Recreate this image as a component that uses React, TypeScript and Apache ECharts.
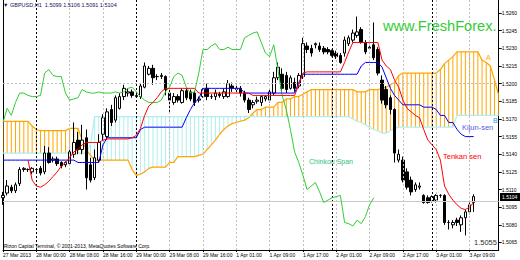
import React, { useEffect, useRef } from "react";
import * as echarts from "echarts";

const xTickLabels = [
  "27 Mar 2013", "28 Mar 00:00", "28 Mar 08:00", "28 Mar 16:00", "29 Mar 00:00",
  "29 Mar 08:00", "29 Mar 16:00", "1 Apr 01:00", "1 Apr 09:00", "1 Apr 17:00",
  "2 Apr 01:00", "2 Apr 09:00", "2 Apr 17:00", "3 Apr 01:00", "3 Apr 09:00",
];
const yTickValues = [
  1.5065, 1.508, 1.5095, 1.511, 1.5125, 1.514, 1.5155, 1.517, 1.5185, 1.52,
  1.5215, 1.523, 1.5245, 1.526,
];
const BAR_SLOTS = 120;
const daySeparators = [8, 32, 79, 103];
const bidPrice = 1.5104;

const open = [
  1.5103, 1.5107, 1.5112, 1.5109, 1.5115, 1.5127, 1.5127, 1.5125, 1.5127, 1.5128,
  1.5125, 1.5141, 1.5135, 1.5136, 1.5133, 1.5131, 1.5132, 1.514, 1.5152, 1.5144,
  1.5154, 1.5131, 1.512, 1.5135, 1.5157, 1.5155, 1.5178, 1.5169, 1.5179, 1.5189,
  1.5192, 1.5193, 1.5189, 1.5189, 1.5197, 1.5208, 1.5213, 1.5206, 1.5206, 1.5206,
  1.5192, 1.5184, 1.5189, 1.5184, 1.5194, 1.5193, 1.5192, 1.5186, 1.5189, 1.5196,
  1.5189, 1.5189, 1.5191, 1.5189, 1.5189, 1.5198, 1.5196, 1.5196, 1.5192, 1.5186,
  1.5182, 1.5185, 1.5184, 1.5187, 1.5186, 1.5192, 1.5205, 1.5208, 1.5207, 1.5196,
  1.5201, 1.5198, 1.5206, 1.5232, 1.523, 1.5233, 1.5232, 1.523, 1.5229, 1.5228,
  1.5226, 1.5224, 1.5226, 1.5234, 1.5237, 1.5241, 1.5246, 1.5235, 1.523, 1.5233,
  1.5229, 1.5203, 1.5195, 1.5188, 1.5178, 1.5135, 1.5135, 1.5125, 1.5118, 1.511,
  1.5112, 1.5105, 1.5103, 1.51, 1.5101, 1.5105, 1.5105, 1.5082, 1.508, 1.5084,
  1.508, 1.5086, 1.5091, 1.5099,
];
const close = [
  1.5105, 1.5113, 1.5109, 1.5114, 1.5127, 1.5128, 1.5127, 1.5128, 1.5127, 1.5124,
  1.5141, 1.5133, 1.5136, 1.5132, 1.513, 1.5133, 1.5142, 1.515, 1.5144, 1.5152,
  1.512, 1.5118, 1.5137, 1.515, 1.5171, 1.5176, 1.5167, 1.5188, 1.5189, 1.5196,
  1.5193, 1.519, 1.519, 1.5198, 1.5215, 1.5213, 1.5205, 1.5206, 1.5207, 1.5195,
  1.5186, 1.5189, 1.5186, 1.5194, 1.5188, 1.5187, 1.5184, 1.5187, 1.5195, 1.5189,
  1.5189, 1.5192, 1.519, 1.5193, 1.52, 1.5196, 1.5195, 1.5192, 1.5186, 1.5178,
  1.5184, 1.5186, 1.5189, 1.5189, 1.5193, 1.5205, 1.5214, 1.5196, 1.5195, 1.5205,
  1.5196, 1.5207, 1.5234, 1.5229, 1.5226, 1.5234, 1.5229, 1.5227, 1.5227, 1.5224,
  1.5223, 1.5218, 1.5237, 1.5239, 1.5243, 1.5244, 1.5235, 1.5227, 1.5231, 1.5222,
  1.5209, 1.5186, 1.5182, 1.5178, 1.5141, 1.514, 1.5118, 1.5112, 1.5108, 1.5114,
  1.5113, 1.5099, 1.5099, 1.5104, 1.5105, 1.5105, 1.5082, 1.5082, 1.5082, 1.5082,
  1.5086, 1.5091, 1.5097, 1.5104,
];
const low = [
  1.5097, 1.5105, 1.5107, 1.5107, 1.5113, 1.5125, 1.5125, 1.5123, 1.5124, 1.5122,
  1.5123, 1.5132, 1.5133, 1.513, 1.5128, 1.5129, 1.513, 1.5137, 1.514, 1.514,
  1.511, 1.5116, 1.5118, 1.5133, 1.5152, 1.5152, 1.5164, 1.5167, 1.5178, 1.5186,
  1.5189, 1.5188, 1.5188, 1.5187, 1.5196, 1.5207, 1.5199, 1.5203, 1.5204, 1.519,
  1.5176, 1.5182, 1.5184, 1.5183, 1.5186, 1.5185, 1.5181, 1.5184, 1.5188, 1.5186,
  1.5187, 1.5186, 1.5188, 1.5187, 1.5188, 1.5193, 1.5192, 1.5189, 1.5184, 1.5175,
  1.5179, 1.5183, 1.5181, 1.5185, 1.5184, 1.519, 1.5203, 1.5193, 1.5192, 1.5195,
  1.5193, 1.5196, 1.5204, 1.5226, 1.5223, 1.523, 1.5227, 1.5225, 1.5225, 1.5223,
  1.5221, 1.5217, 1.5223, 1.5232, 1.5235, 1.5239, 1.5234, 1.5225, 1.5229, 1.522,
  1.5207, 1.5183, 1.5179, 1.5174, 1.5133, 1.5133, 1.5116, 1.511, 1.5105, 1.5108,
  1.511, 1.5098, 1.5098, 1.5099, 1.5099, 1.5103, 1.508, 1.5076, 1.5077, 1.5079,
  1.5074, 1.5071, 1.5089, 1.5091,
];
const high = [
  1.5108, 1.5118, 1.5114, 1.5116, 1.5129, 1.5129, 1.5128, 1.5129, 1.5128, 1.513,
  1.5147, 1.5146, 1.5138, 1.5138, 1.5134, 1.5134, 1.5145, 1.5167, 1.5159, 1.5165,
  1.5161, 1.5137, 1.5144, 1.5157, 1.5174, 1.5179, 1.5182, 1.519, 1.5192, 1.5199,
  1.5196, 1.5195, 1.5193, 1.52, 1.5218, 1.5215, 1.5216, 1.5208, 1.5209, 1.5207,
  1.5195, 1.5192, 1.5191, 1.5196, 1.5196, 1.5195, 1.5194, 1.5189, 1.5196, 1.52,
  1.5191, 1.5195, 1.5193, 1.5196, 1.5203, 1.5201, 1.5199, 1.5198, 1.5194, 1.5188,
  1.5186, 1.5189, 1.519, 1.519, 1.5196, 1.521, 1.5218, 1.5213, 1.521, 1.5207,
  1.5205, 1.5209, 1.5239, 1.5235, 1.5233, 1.5235, 1.5235, 1.5232, 1.5231, 1.5229,
  1.5228, 1.5226, 1.524, 1.5241, 1.5246, 1.5257, 1.5248, 1.5237, 1.5234, 1.5252,
  1.5231, 1.5207, 1.5198, 1.519, 1.5179, 1.5144, 1.5138, 1.5128, 1.5121, 1.5116,
  1.5116, 1.5106, 1.5105, 1.5105, 1.5106, 1.5106, 1.5106, 1.5084, 1.5084, 1.5086,
  1.5088, 1.5093, 1.5099, 1.5106,
];

const tenkan = [
  null, null, null, null, null, null, 1.5135, 1.5118, 1.5113, 1.5112,
  1.5114, 1.5117, 1.5121, 1.5125, 1.513, 1.5133, 1.5137, 1.5142, 1.5144, 1.5148,
  1.515, 1.515, 1.515, 1.515, 1.5152, 1.5153, 1.5153, 1.5153, 1.5153, 1.5153,
  1.5153, 1.5154, 1.5156, 1.5162, 1.5173, 1.5181, 1.5184, 1.5188, 1.5193, 1.5196,
  1.5196, 1.5196, 1.5196, 1.5196, 1.5196, 1.5196, 1.5196, 1.5192, 1.5192, 1.5192,
  1.5192, 1.5192, 1.5192, 1.5192, 1.5192, 1.5192, 1.5192, 1.5192, 1.5192, 1.5192,
  1.519, 1.519, 1.519, 1.519, 1.519, 1.519, 1.519, 1.519, 1.519, 1.519,
  1.519, 1.5199, 1.5209, 1.521, 1.521, 1.521, 1.521, 1.521, 1.521, 1.521,
  1.521, 1.521, 1.5218, 1.5227, 1.5235, 1.5235, 1.5235, 1.5235, 1.5235, 1.5235,
  1.5235, 1.522, 1.5215, 1.5212, 1.5203, 1.5197, 1.5186, 1.5179, 1.5176, 1.5173,
  1.5171, 1.5161, 1.5152, 1.5148, 1.5144, 1.5135, 1.5113, 1.5106, 1.5101, 1.5097,
  1.5094, 1.5093, 1.5095, 1.5099,
];
const kijun = [
  1.5135, 1.5135, 1.5135, 1.5135, 1.5135, 1.5135, 1.5135, 1.5135, 1.5135, 1.5135,
  1.5135, 1.5135, 1.5135, 1.5135, 1.5135, 1.5135, 1.5135, 1.5135, 1.5133, 1.5133,
  1.5133, 1.5133, 1.5133, 1.5133, 1.5148, 1.5154, 1.5154, 1.5154, 1.5154, 1.5154,
  1.5154, 1.5154, 1.5154, 1.5161, 1.5163, 1.5163, 1.5163, 1.5163, 1.5163, 1.5163,
  1.5163, 1.5163, 1.5163, 1.5163, 1.5171, 1.5178, 1.5184, 1.5187, 1.5196, 1.5196,
  1.5196, 1.5196, 1.5196, 1.5196, 1.5196, 1.5196, 1.5196, 1.5196, 1.5192, 1.5192,
  1.5192, 1.5192, 1.5192, 1.5192, 1.5192, 1.5192, 1.5192, 1.5192, 1.5192, 1.5192,
  1.5192, 1.5201, 1.5208, 1.5208, 1.5208, 1.5208, 1.5208, 1.5208, 1.5208, 1.5208,
  1.5208, 1.5208, 1.5208, 1.5208, 1.5208, 1.5208, 1.5215, 1.5218, 1.5218, 1.5218,
  1.5218, 1.5214, 1.5205, 1.5196, 1.519, 1.5186, 1.5182, 1.5182, 1.5182, 1.5182,
  1.5182, 1.518, 1.518, 1.518, 1.5178, 1.5173, 1.5173, 1.5167, 1.5167, 1.5161,
  1.5157, 1.5155, 1.5155, 1.5155,
];
const chinkou = [
  1.5167, 1.5179, 1.5173, 1.5184, 1.5192, 1.5192, 1.519, 1.5189, 1.5189, 1.519,
  1.5209, 1.5212, 1.5207, 1.5206, 1.5206, 1.5192, 1.5186, 1.5187, 1.5188, 1.5195,
  1.5193, 1.5192, 1.5192, 1.5193, 1.5192, 1.5192, 1.5192, 1.5193, 1.5192, 1.5193,
  1.5196, 1.5197, 1.5193, 1.5189, 1.5186, 1.5184, 1.5184, 1.5184, 1.5186, 1.5193,
  1.5197, 1.5206, 1.5209, 1.5207, 1.5197, 1.5192, 1.5193, 1.5209, 1.5229, 1.5229,
  1.5232, 1.5234, 1.5229, 1.5229, 1.5231, 1.5229, 1.5229, 1.5229, 1.5239, 1.5241,
  1.5243, 1.5244, 1.5235, 1.5226, 1.5223, 1.5233, 1.5212, 1.519, 1.5178, 1.5161,
  1.5142, 1.5133, 1.5122, 1.511, 1.5113, 1.5116, 1.5108, 1.5099, 1.5101, 1.5103,
  1.5104, 1.5105, 1.5082, 1.5081, 1.5079, 1.5084, 1.5081, 1.5087, 1.5097, 1.5103,
];
const spanA = [
  1.5168, 1.5168, 1.5168, 1.5168, 1.5168, 1.5168, 1.5168, 1.5164, 1.5161, 1.516,
  1.516, 1.516, 1.516, 1.516, 1.516, 1.516, 1.5162, 1.5162, 1.5162, 1.5152,
  1.5144, 1.5139, 1.5135, 1.5135, 1.5135, 1.5135, 1.5135, 1.5135, 1.5135, 1.5135,
  1.5135, 1.5127, 1.5122, 1.5123, 1.5125, 1.5128, 1.5129, 1.5129, 1.5129, 1.5129,
  1.5133, 1.5133, 1.5138, 1.5138, 1.5138, 1.5138, 1.5138, 1.5139, 1.514, 1.5144,
  1.5148, 1.5152, 1.5157, 1.5161, 1.5164, 1.5166, 1.5167, 1.5168, 1.5169, 1.5171,
  1.5175, 1.5178, 1.5178, 1.518, 1.518, 1.518, 1.5184, 1.5184, 1.5187, 1.5187,
  1.5189, 1.5189, 1.5191, 1.5193, 1.5195, 1.5195, 1.5195, 1.5195, 1.5195, 1.5195,
  1.5195, 1.5195, 1.5195, 1.5195, 1.5195, 1.5193, 1.5193, 1.5193, 1.5195, 1.5195,
  1.5195, 1.5196, 1.5197, 1.5199, 1.5201, 1.5207, 1.5209, 1.5209, 1.5209, 1.5209,
  1.5209, 1.5209, 1.5209, 1.5209, 1.5209, 1.5212, 1.5217, 1.522, 1.5223, 1.5227,
  1.5227, 1.5227, 1.5227, 1.5227, 1.5227, 1.522, 1.5218, 1.5215, 1.5203, 1.519,
];
const spanB = [
  1.5141, 1.5141, 1.5141, 1.5141, 1.5141, 1.5141, 1.5141, 1.5141, 1.5141, 1.5141,
  1.5141, 1.5141, 1.5141, 1.5141, 1.5141, 1.5141, 1.5141, 1.5141, 1.5141, 1.5141,
  1.5141, 1.5148, 1.5172, 1.5172, 1.5172, 1.5172, 1.5172, 1.5172, 1.5172, 1.5172,
  1.5172, 1.5172, 1.5172, 1.5172, 1.5172, 1.5172, 1.5172, 1.5172, 1.5172, 1.5172,
  1.5172, 1.5172, 1.5172, 1.5172, 1.5172, 1.5172, 1.5172, 1.5172, 1.5172, 1.5172,
  1.5172, 1.5172, 1.5172, 1.5172, 1.5172, 1.5172, 1.5172, 1.5172, 1.5172, 1.5172,
  1.5172, 1.5172, 1.5172, 1.5172, 1.5172, 1.5172, 1.5172, 1.5172, 1.5172, 1.5172,
  1.5172, 1.5172, 1.5172, 1.5172, 1.5172, 1.5172, 1.5172, 1.5172, 1.5172, 1.5172,
  1.5172, 1.5172, 1.5172, 1.5172, 1.517, 1.5168, 1.5167, 1.5165, 1.5163, 1.5161,
  1.516, 1.5158, 1.5158, 1.516, 1.5162, 1.5163, 1.5163, 1.5163, 1.5163, 1.5163,
  1.5163, 1.5163, 1.5163, 1.5163, 1.5163, 1.5163, 1.5163, 1.5163, 1.5163, 1.5173,
  1.5173, 1.5173, 1.5173, 1.5173, 1.5173, 1.5173, 1.5173, 1.5173, 1.5173, 1.5173,
];

const FONT = "'Liberation Sans', Arial, sans-serif";

export default function App() {
  const ref = useRef<HTMLDivElement>(null);
  useEffect(() => {
    if (!ref.current) return;
    const chart = echarts.init(ref.current, null, { renderer: "svg" });
    const categories = Array.from({ length: BAR_SLOTS }, (_, i) => String(i));
    const candles = open.map((o, i) => [o, close[i], low[i], high[i]]);
    const cloud = spanA.map((a, i) => [i, a, spanB[i]]);
    const tickIdx = (i: number) => i % 8 === 0 && i <= 112;

    const gridLines: any[] = [];
    yTickValues.forEach((v) => gridLines.push({ yAxis: v }));
    xTickLabels.forEach((_, k) => {
      const idx = k * 8;
      if (idx > 0 && !daySeparators.includes(idx)) gridLines.push({ xAxis: idx });
    });
    daySeparators.forEach((idx) =>
      gridLines.push({ xAxis: idx, lineStyle: { color: "#000", type: [2, 2], width: 1 } })
    );
    gridLines.push({ yAxis: bidPrice, lineStyle: { color: "#c8c8c8", type: "solid", width: 1 } });

    const txt = (x: number, y: number, text: string, fill: string, fontSize: number, extra: any = {}) => ({
      type: "text",
      x,
      y,
      z: 100,
      style: { text, fill, fontSize, fontFamily: FONT, verticalAlign: "middle", ...extra },
    });

    chart.setOption({
      animation: false,
      backgroundColor: "#fff",
      textStyle: { fontFamily: FONT },
      grid: { left: 2, right: 21, top: 0, bottom: 10, containLabel: false },
      xAxis: {
        type: "category",
        data: categories,
        boundaryGap: false,
        axisLine: { show: true, lineStyle: { color: "#000", width: 1 } },
        axisTick: { show: true, interval: (i: number) => tickIdx(i), length: 2, lineStyle: { color: "#000" } },
        axisLabel: {
          interval: (i: number) => tickIdx(i),
          formatter: (_v: string, i: number) => xTickLabels[i / 8] ?? "",
          align: "left",
          fontSize: 5,
          color: "#000",
          margin: 2,
        },
        splitLine: { show: false },
      },
      yAxis: [
        {
          type: "value",
          position: "right",
          min: 1.50586,
          max: 1.52711,
          axisLine: { show: true, lineStyle: { color: "#000", width: 1 } },
          axisTick: { show: true, customValues: yTickValues, length: 3, lineStyle: { color: "#000" } },
          axisLabel: {
            customValues: yTickValues,
            formatter: (v: number) => v.toFixed(4),
            fontSize: 5,
            color: "#000",
            margin: 3,
          },
          splitLine: { show: false },
        },
        {
          type: "value",
          position: "left",
          min: 1.50586,
          max: 1.52711,
          axisLine: { show: true, lineStyle: { color: "#000", width: 1 } },
          axisTick: { show: false },
          axisLabel: { show: false },
          splitLine: { show: false },
        },
      ],
      series: [
        {
          type: "line",
          data: [],
          silent: true,
          z: 1,
          markLine: {
            silent: true,
            symbol: ["none", "none"],
            label: { show: false },
            lineStyle: { color: "#c0c0c0", type: [2, 2], width: 1 },
            data: gridLines,
            animation: false,
          },
        },
        {
          type: "custom",
          z: 2,
          silent: true,
          clip: true,
          data: cloud,
          encode: { x: 0, y: [1, 2] },
          renderItem: (_p: any, api: any) => {
            const i = api.value(0);
            const a = api.value(1);
            const b = api.value(2);
            const p1 = api.coord([i, a]);
            const p2 = api.coord([i, b]);
            return {
              type: "line",
              shape: { x1: p1[0], y1: p1[1], x2: p2[0], y2: p2[1] },
              style: { stroke: a >= b ? "#ffa500" : "#b0eeee", lineWidth: 1 },
            };
          },
        },
        {
          type: "line",
          data: spanA,
          z: 3,
          showSymbol: false,
          silent: true,
          lineStyle: { color: "#ffa500", width: 1.2 },
        },
        {
          type: "line",
          data: spanB,
          z: 3,
          showSymbol: false,
          silent: true,
          lineStyle: { color: "#aeeeee", width: 1.2 },
        },
        {
          type: "candlestick",
          data: candles,
          z: 4,
          barWidth: 3,
          silent: true,
          itemStyle: {
            color: "#ffffff",
            color0: "#000000",
            borderColor: "#000000",
            borderColor0: "#000000",
            borderWidth: 1,
          },
        },
        {
          type: "line",
          data: chinkou,
          z: 5,
          showSymbol: false,
          silent: true,
          lineStyle: { color: "#32cd32", width: 1 },
        },
        {
          type: "line",
          data: kijun,
          z: 5,
          showSymbol: false,
          silent: true,
          lineStyle: { color: "#0000ff", width: 1 },
        },
        {
          type: "line",
          data: tenkan,
          z: 5,
          showSymbol: false,
          silent: true,
          lineStyle: { color: "#ff0000", width: 1 },
        },
      ],
      graphic: [
        txt(3, 5, "\u25BC GBPUSD,H1  1.5099 1.5106 1.5091 1.5104", "#10105a", 5.5),
        txt(383, 26, "www.FreshForex.", "#33cc33", 14.6),
        txt(486, 57, "A", "#ffa500", 7),
        txt(493, 120, "B", "#1e90ff", 7),
        txt(462, 127, "Kijun-sen", "#5a5ae6", 7.5),
        txt(443, 156, "Tenkan sen", "#ff0000", 7.5),
        txt(309, 161, "Chinkou Span", "#2fbf7f", 7),
        txt(474, 242, "1.5055", "#303030", 7.5),
        txt(4, 246, "Rizon Capital Terminal, \u00A9 2001-2013, MetaQuotes Software Corp.", "#000", 5),
        { type: "rect", z: 100, shape: { x: 500, y: 193, width: 20, height: 8 }, style: { fill: "#000" } },
        txt(502, 197, "1.5104", "#fff", 5),
      ],
    });
    return () => chart.dispose();
  }, []);
  return (
    <div
      ref={ref}
      style={{ position: "fixed", left: 0, top: 0, width: 520, height: 260, background: "#fff" }}
    />
  );
}
